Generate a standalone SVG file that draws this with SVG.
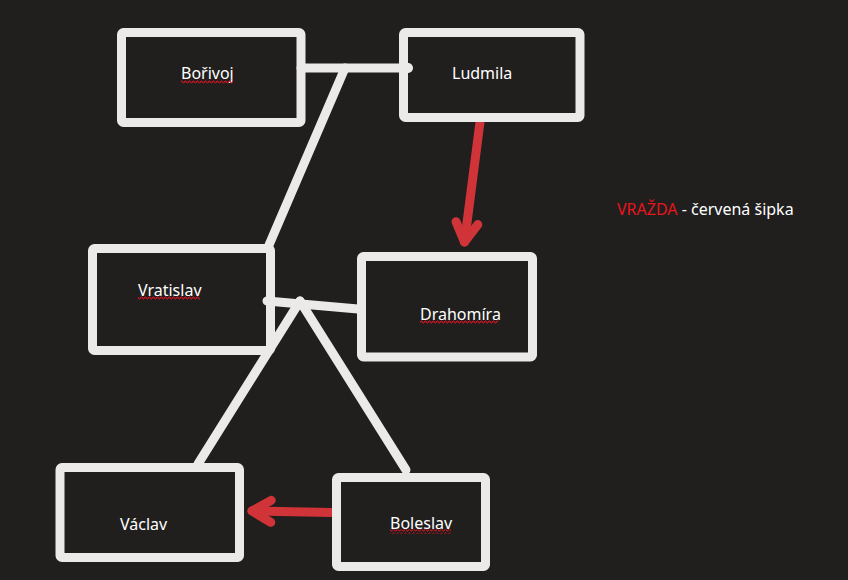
<svg xmlns="http://www.w3.org/2000/svg" width="848" height="580" viewBox="0 0 848 580">
  <defs>
    <style>
      .box { fill: none; stroke: #eceae8; stroke-width: 9; }
      .line { fill: none; stroke: #eceae8; stroke-width: 9; stroke-linecap: round; stroke-linejoin: round; }
      .kill { fill: none; stroke: #d13438; stroke-width: 9; stroke-linecap: round; }
      .lbl { font-family: "Noto Sans", "Open Sans", sans-serif; font-size: 16px; fill: #ffffff; }
      .red { fill: #e8141c; }
    </style>
    <marker id="head" markerUnits="userSpaceOnUse" markerWidth="50" markerHeight="50" viewBox="-25 -25 50 50" refX="0" refY="0" orient="auto">
      <path d="M-19,-11 L0,0 L-19,11" fill="none" stroke="#d13438" stroke-width="9" stroke-linecap="round" stroke-linejoin="round"/>
    </marker>
    <pattern id="squig" patternUnits="userSpaceOnUse" width="4" height="4">
      <path d="M0,3 L1,1 L2,1 L3,3 L4,3" fill="none" stroke="#e81123" stroke-width="1"/>
    </pattern>
  </defs>
  <rect width="848" height="580" fill="#201f1e"/>

  <g id="connectors">
    <line class="line" x1="301" y1="68" x2="408" y2="68"/>
    <circle cx="408" cy="68" r="5" fill="#eceae8"/>
    <line class="line" x1="345" y1="68" x2="269" y2="245"/>
    <line class="line" x1="267" y1="301" x2="358" y2="309"/>
    <line class="line" x1="300" y1="301" x2="198" y2="464"/>
    <line class="line" x1="300" y1="301" x2="406" y2="470"/>
    <line class="kill" x1="480" y1="122" x2="464.5" y2="242" marker-end="url(#head)"/>
    <line class="kill" x1="332" y1="512.5" x2="252" y2="511" marker-end="url(#head)"/>
  </g>

  <g id="borivoj">
    <rect class="box" x="121.5" y="32.5" width="179.5" height="90" rx="2"/>
    <text class="lbl" x="181" y="79">Bořivoj</text>
    <rect x="181" y="79.5" width="52" height="4" fill="url(#squig)"/>
  </g>
  <g id="ludmila">
    <rect class="box" x="403.5" y="32.5" width="176.5" height="85" rx="2"/>
    <text class="lbl" x="452" y="79">Ludmila</text>
  </g>
  <g id="vratislav">
    <rect class="box" x="92.5" y="248.5" width="178" height="102" rx="2"/>
    <text class="lbl" x="138" y="296">Vratislav</text>
    <rect x="138" y="296" width="62" height="4" fill="url(#squig)"/>
  </g>
  <g id="drahomira">
    <rect class="box" x="361.5" y="256.5" width="171" height="100.5" rx="2"/>
    <text class="lbl" x="420" y="320">Drahomíra</text>
    <rect x="420" y="320" width="78" height="4" fill="url(#squig)"/>
  </g>
  <g id="vaclav">
    <rect class="box" x="60" y="467.5" width="179.5" height="90" rx="2"/>
    <text class="lbl" x="120" y="530">Václav</text>
  </g>
  <g id="boleslav">
    <rect class="box" x="336.5" y="477.5" width="149" height="89" rx="2"/>
    <text class="lbl" x="390" y="529">Boleslav</text>
    <rect x="390" y="529.5" width="61" height="4" fill="url(#squig)"/>
  </g>
  <g id="legend">
    <text class="lbl" x="617" y="215"><tspan class="red">VRAŽDA</tspan> - červená šipka</text>
  </g>
</svg>
